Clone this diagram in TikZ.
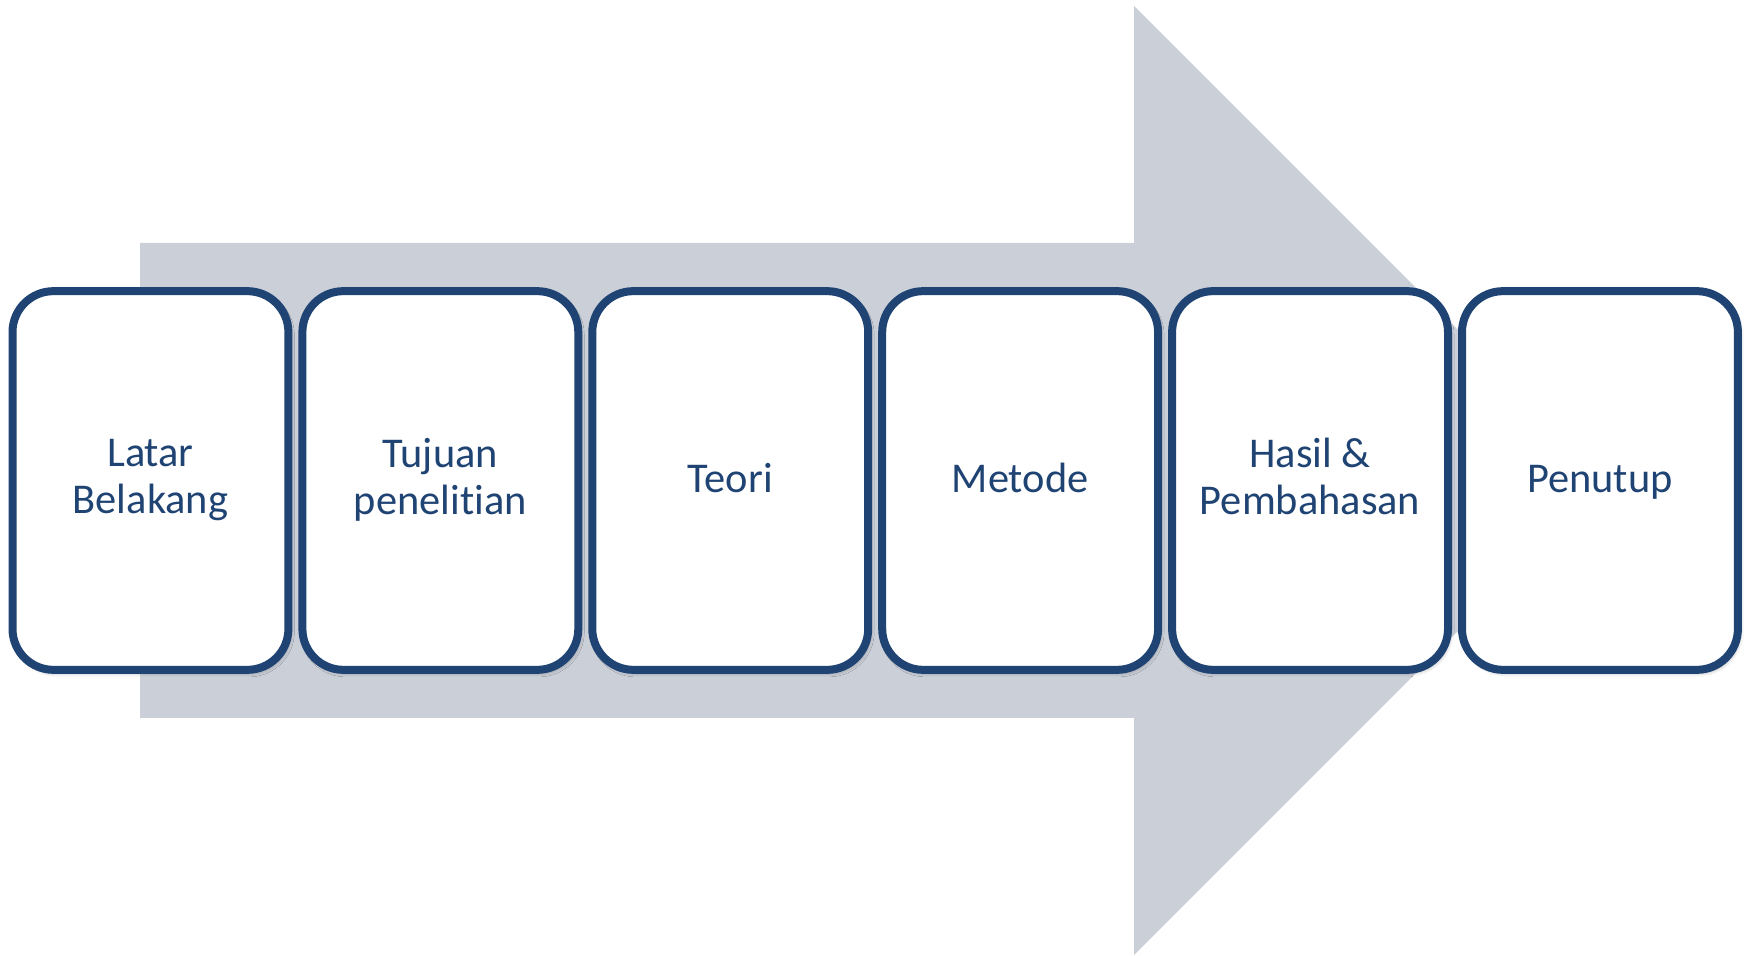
\documentclass[tikz,border=0pt]{standalone}
\usepackage{fontspec}
\setmainfont{Carlito}[Ligatures=NoCommon]
\usetikzlibrary{positioning,shadows.blur}
\definecolor{boxblue}{RGB}{31,67,115}
\definecolor{arrowgray}{RGB}{203,207,216}
\newcommand{\linestrut}{\rule[-4.3pt]{0pt}{20.8pt}}

\begin{document}
\begin{tikzpicture}[x=0.5pt,y=-0.5pt,
    stage/.style={draw=boxblue, line width=4pt, fill=white, rounded corners=20.5pt,
        minimum width=137.95pt, minimum height=189.35pt, inner sep=0pt,
        align=center, text=boxblue, font=\fontsize{21.2}{23.35}\selectfont,
        execute at begin node=\linestrut, execute at end node=\linestrut,
        blur shadow={shadow xshift=1pt, shadow yshift=-1.5pt, shadow blur radius=2pt, shadow opacity=35}}]
    \useasboundingbox (0,0) rectangle (1752,956);
    % big arrow behind
    \fill[arrowgray] (140,243) -- (1134,243) -- (1134,6) -- (1608.5,480.5)
        -- (1134,955) -- (1134,718) -- (140,718) -- cycle;
    % stages
    \node[stage] (latar) at (150.45,480.5) {Latar\\Belakang};
    \node[stage, right=3pt of latar] (tujuan) {Tujuan\\penelitian};
    \node[stage, right=3pt of tujuan] (teori) {Teori};
    \node[stage, right=3pt of teori] (metode) {Metode};
    \node[stage, right=3pt of metode] (hasil) {Hasil \&\\Pembahasan};
    \node[stage, right=3pt of hasil] (penutup) {Penutup};
\end{tikzpicture}
\end{document}
